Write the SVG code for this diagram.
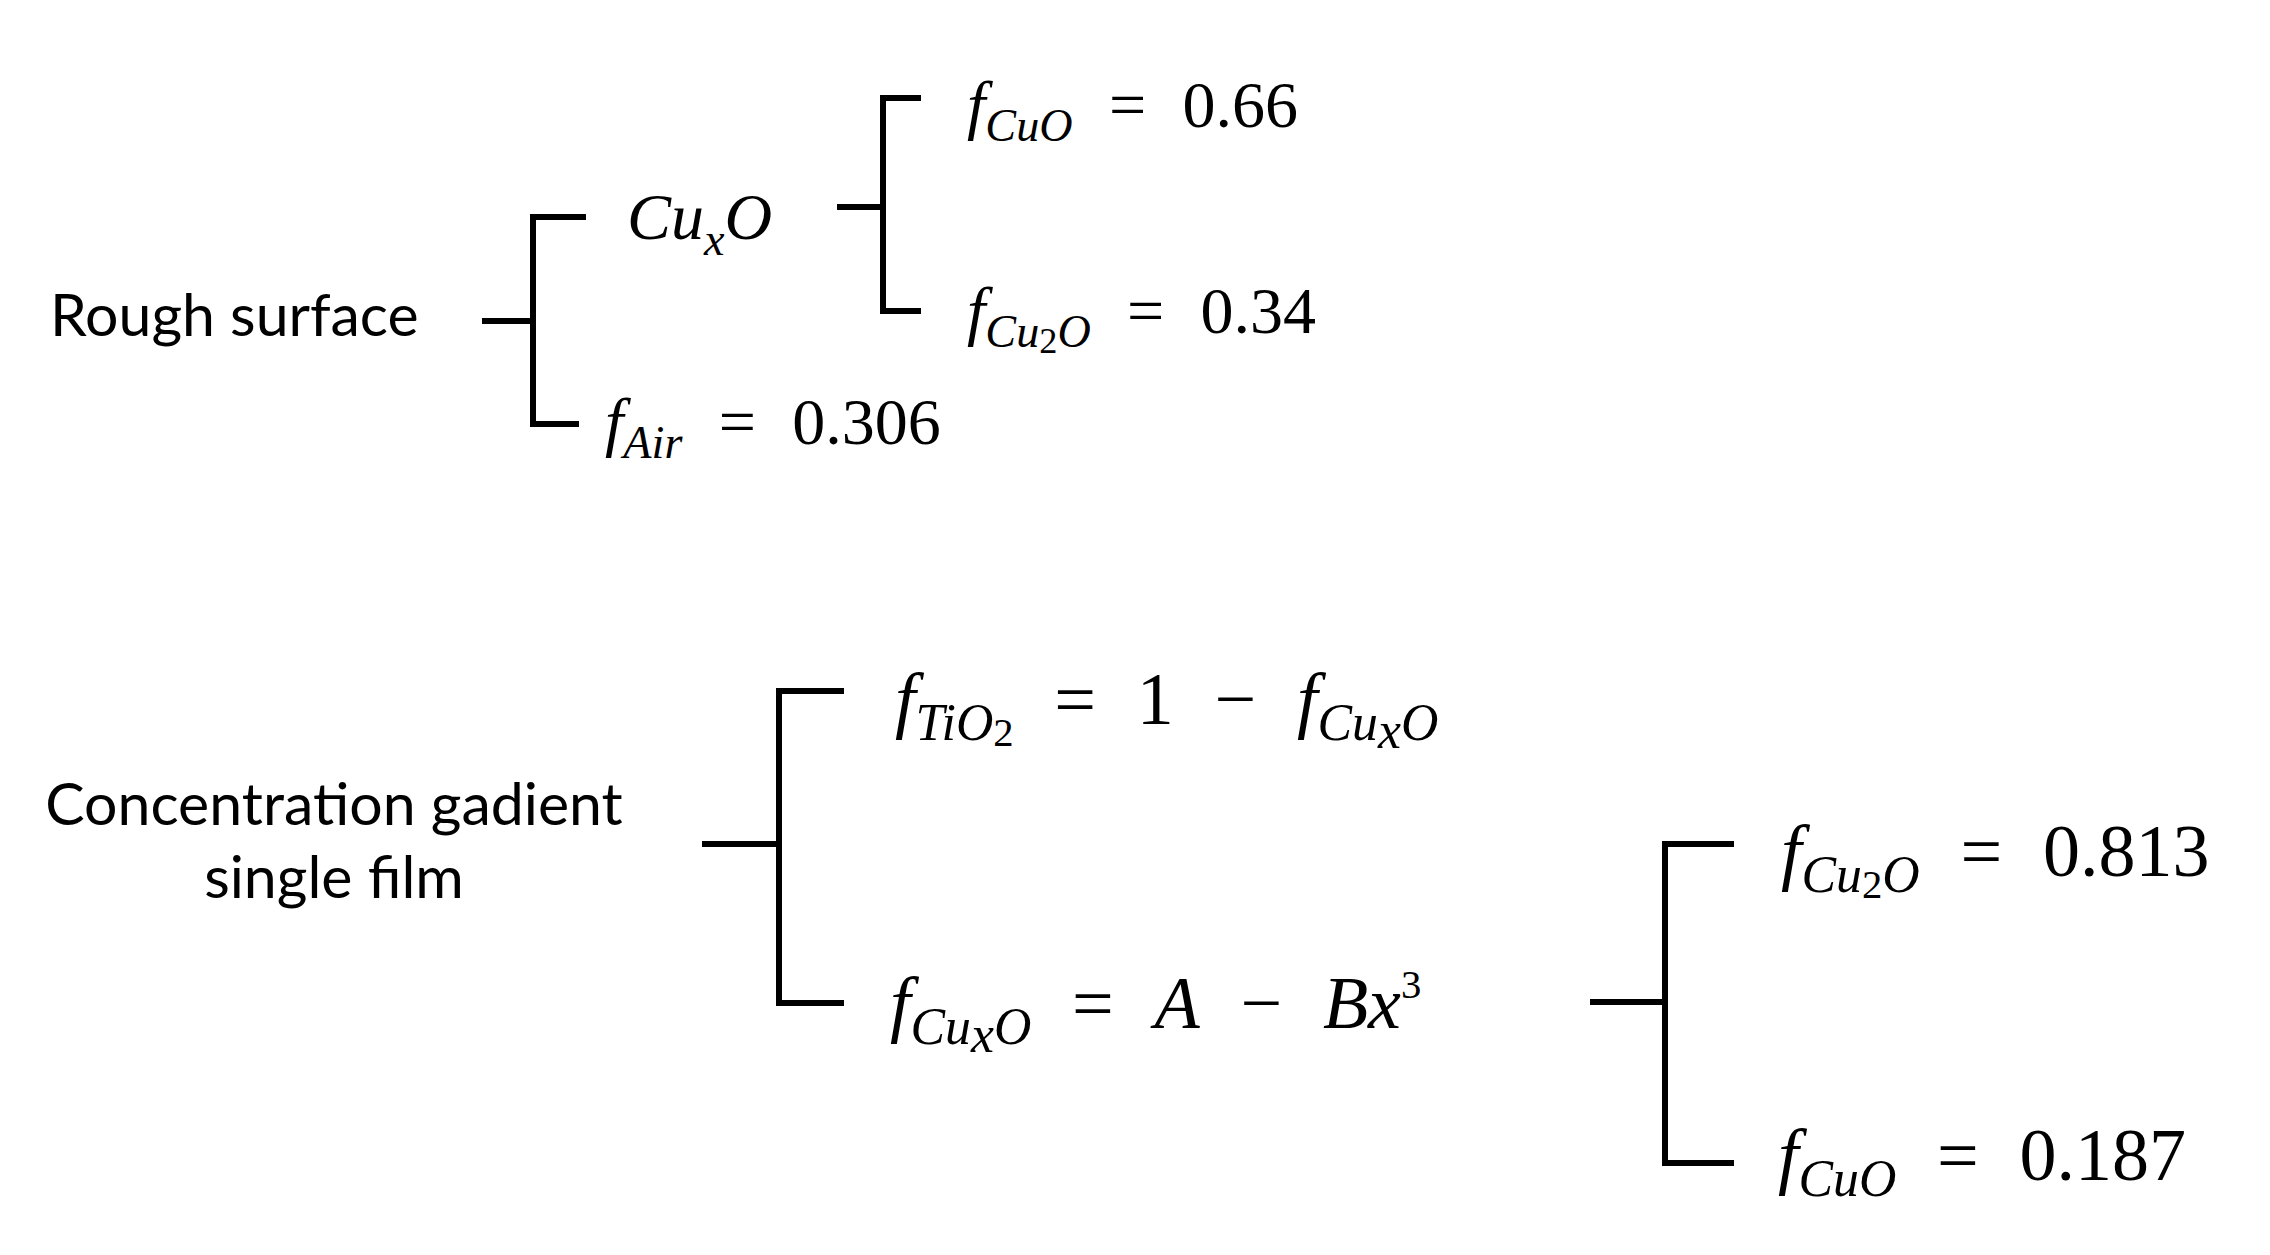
<svg xmlns="http://www.w3.org/2000/svg" width="2270" height="1255" viewBox="0 0 2270 1255">
<style>
.lbl{font-family:Lato,"Liberation Sans",sans-serif;font-size:59px;fill:#000}
.m{font-family:"Liberation Serif","DejaVu Serif",serif;font-size:66px;fill:#000;word-spacing:0.3em}
.m2{font-family:"Liberation Serif","DejaVu Serif",serif;font-size:74px;fill:#000;word-spacing:0.3em}
.i{font-style:italic}
.s{font-size:0.7em;font-style:italic}
.ss{font-size:0.55em;font-style:normal}
.br{fill:none;stroke:#000;stroke-width:6}
</style>
<rect width="2270" height="1255" fill="#fff"/>
<g id="connectors">
<path class="br" d="M482 321H533M586 217H533V424H579"/>
<path class="br" d="M837 207H883M921 98H883V311H921"/>
<path class="br" d="M702 844H779M844 691H779V1003H844"/>
<path class="br" d="M1590 1002H1665M1734 844H1665V1163H1734"/>
</g>
<g id="rough"><text class="lbl" x="50" y="336">Rough surface</text></g>
<g id="cuxo"><text class="m i" x="627" y="239">Cu<tspan class="s" dy="16">x</tspan><tspan dy="-16">O</tspan></text></g>
<g id="fcuo1"><text class="m" x="967" y="127"><tspan class="i">f</tspan><tspan class="s" dy="14">CuO</tspan><tspan dy="-14"> = 0.66</tspan></text></g>
<g id="fcu2o1"><text class="m" x="967" y="333"><tspan class="i">f</tspan><tspan class="s" dy="14">Cu</tspan><tspan class="ss" dy="6">2</tspan><tspan class="s" dy="-6">O</tspan><tspan dy="-14"> = 0.34</tspan></text></g>
<g id="fair"><text class="m" x="605" y="444"><tspan class="i">f</tspan><tspan class="s" dy="14">Air</tspan><tspan dy="-14"> = 0.306</tspan></text></g>
<g id="conc"><text class="lbl" x="334" y="825" text-anchor="middle">Concentration gadient</text><text class="lbl" x="334" y="898" text-anchor="middle">single film</text></g>
<g id="ftio2"><text class="m2" x="895" y="724"><tspan class="i">f</tspan><tspan class="s" dy="16">TiO</tspan><tspan class="ss" dy="6">2</tspan><tspan dy="-22"> = 1 − </tspan><tspan class="i">f</tspan><tspan class="s" dy="16">Cu</tspan><tspan class="s" dy="8">x</tspan><tspan class="s" dy="-8">O</tspan></text></g>
<g id="fcuxo"><text class="m2" x="890" y="1028"><tspan class="i">f</tspan><tspan class="s" dy="16">Cu</tspan><tspan class="s" dy="8">x</tspan><tspan class="s" dy="-8">O</tspan><tspan dy="-16"> = </tspan><tspan class="i">A</tspan><tspan> − </tspan><tspan class="i">Bx</tspan><tspan class="ss" dy="-30">3</tspan></text></g>
<g id="fcu2o2"><text class="m2" x="1781" y="876"><tspan class="i">f</tspan><tspan class="s" dy="16">Cu</tspan><tspan class="ss" dy="6">2</tspan><tspan class="s" dy="-6">O</tspan><tspan dy="-16"> = 0.813</tspan></text></g>
<g id="fcuo2"><text class="m2" x="1778" y="1180"><tspan class="i">f</tspan><tspan class="s" dy="16">CuO</tspan><tspan dy="-16"> = 0.187</tspan></text></g>
</svg>
